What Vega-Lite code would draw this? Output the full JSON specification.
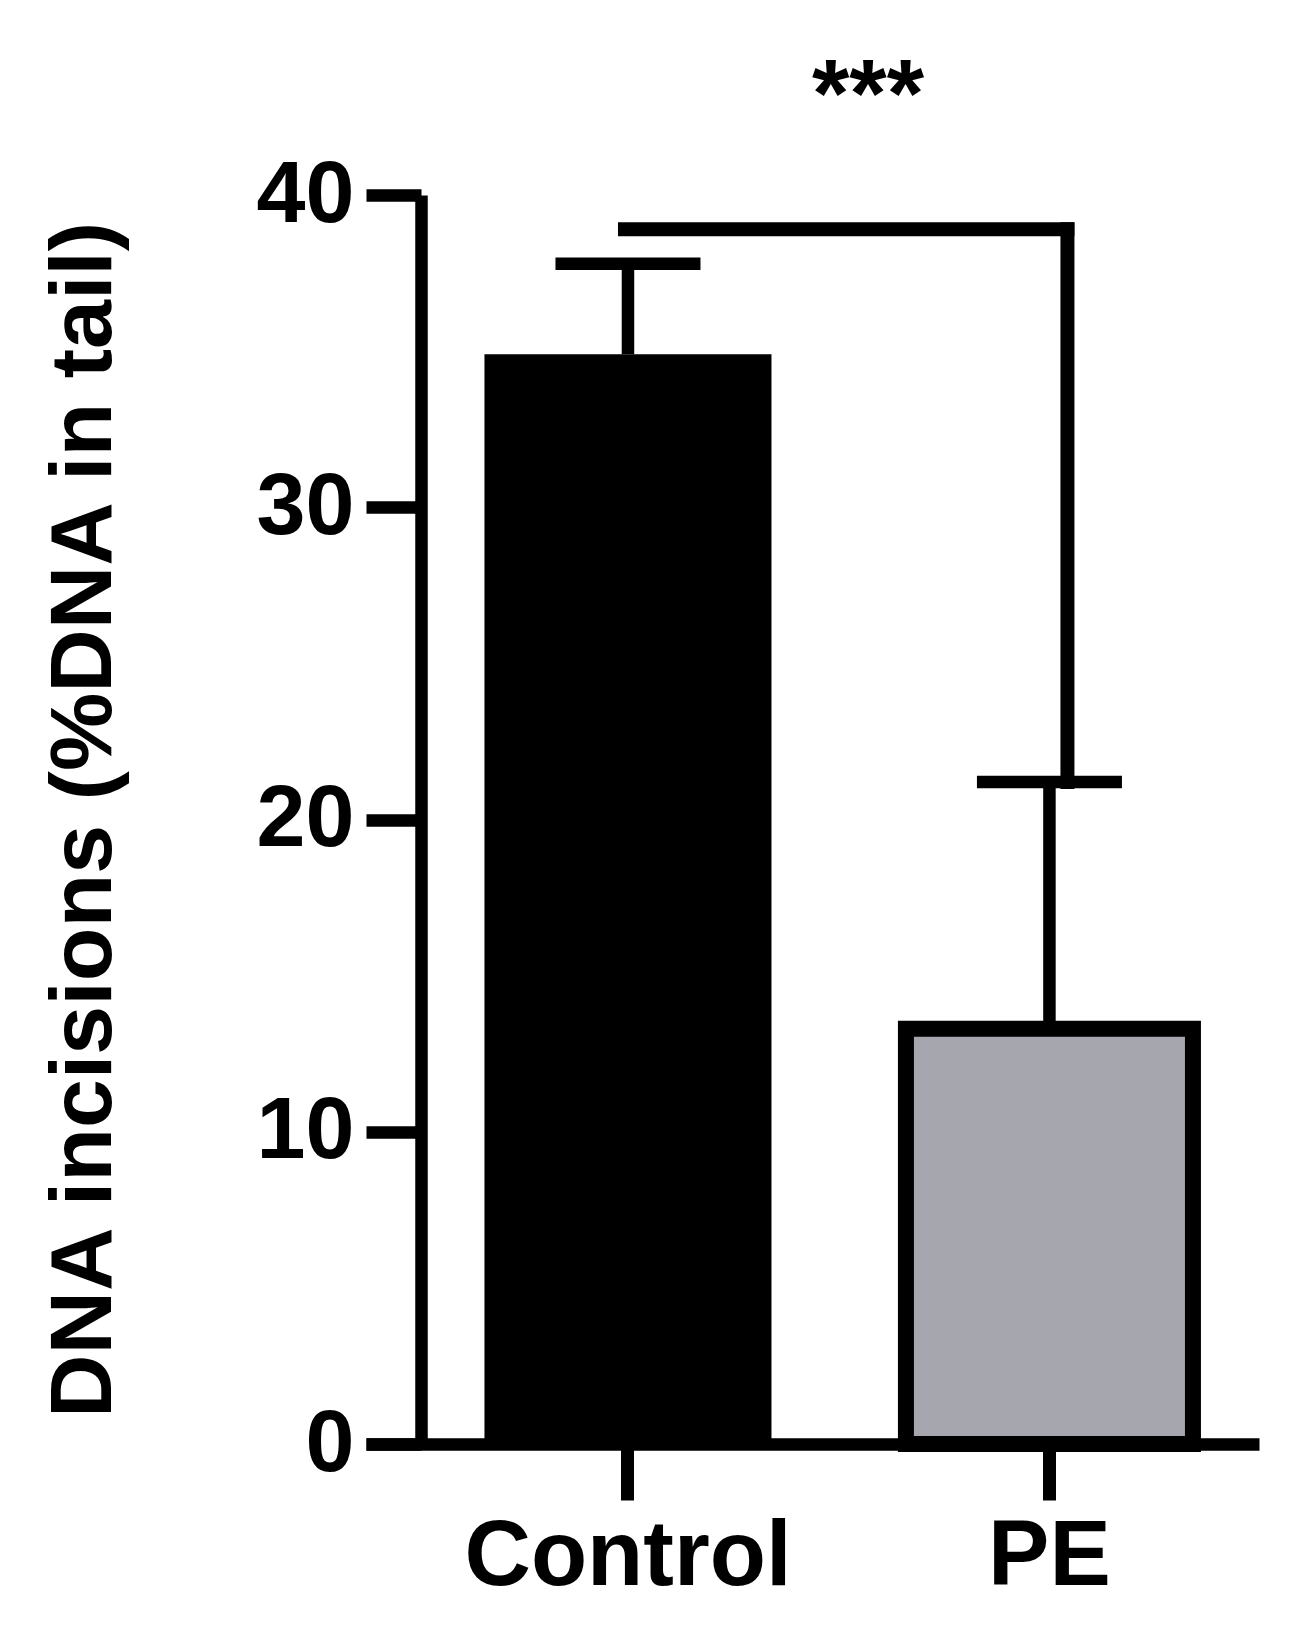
{
  "$schema": "https://vega.github.io/schema/vega-lite/v6.json",
  "width": 893,
  "height": 1249,
  "autosize": {"type": "none"},
  "padding": {"left": 366, "top": 195, "right": 41, "bottom": 195},
  "background": "white",
  "config": {"view": {"stroke": null}, "font": "Liberation Sans"},
  "datasets": {
    "bars": [
      {"group": "Control", "mean": 34.9, "upper": 37.8},
      {"group": "PE", "mean": 13.3, "upper": 21.2}
    ],
    "bracket": [
      {"from": "Control", "to": "PE", "y": 38.9, "low": 21.2, "label": "***", "labelY": 42.2}
    ]
  },
  "layer": [
    {
      "data": {"name": "bars"},
      "mark": {"type": "bar", "stroke": "black"},
      "encoding": {
        "x": {
          "field": "group", "type": "nominal", "sort": null,
          "scale": {"paddingInner": 0.319, "paddingOuter": 0.2189, "align": 0.642},
          "axis": {
            "title": null, "labelAngle": 0, "labelFontSize": 92, "labelFontWeight": "bold",
            "labelColor": "black", "labelPadding": 11, "labelLimit": 0, "tickSize": 56, "tickWidth": 13,
            "tickColor": "black", "domainColor": "black", "domainWidth": 12.5, "grid": false
          }
        },
        "y": {
          "field": "mean", "type": "quantitative",
          "scale": {"domain": [0, 40], "nice": false},
          "axis": {
            "title": "DNA incisions (%DNA in tail)", "titleFontSize": 88, "titleFontWeight": "bold",
            "titleColor": "black", "titlePadding": 128, "values": [0, 10, 20, 30, 40],
            "labelFontSize": 88, "labelFontWeight": "bold", "labelColor": "black",
            "labelPadding": 12, "tickSize": 55, "tickWidth": 12.5, "tickColor": "black",
            "domainWidth": 12.5, "domainColor": "black", "offset": -55, "grid": false
          }
        },
        "fill": {
          "field": "group", "type": "nominal",
          "scale": {"domain": ["Control", "PE"], "range": ["#000000", "#a6a6ae"]},
          "legend": null
        },
        "strokeWidth": {"condition": {"test": "datum.group === 'PE'", "value": 16}, "value": 0}
      }
    },
    {
      "data": {"name": "bars"},
      "mark": {"type": "rule", "strokeWidth": 12.5, "color": "black"},
      "encoding": {
        "x": {"field": "group", "type": "nominal", "sort": null},
        "y": {"field": "mean", "type": "quantitative"},
        "y2": {"field": "upper"}
      }
    },
    {
      "data": {"name": "bars"},
      "mark": {"type": "tick", "orient": "horizontal", "size": 145, "thickness": 12.5, "color": "black", "opacity": 1},
      "encoding": {
        "x": {"field": "group", "type": "nominal", "sort": null},
        "y": {"field": "upper", "type": "quantitative"}
      }
    },
    {
      "data": {"name": "bracket"},
      "mark": {"type": "rule", "strokeWidth": 14, "color": "black", "xOffset": -10, "x2Offset": 25},
      "encoding": {
        "x": {"field": "from", "type": "nominal", "sort": null},
        "x2": {"field": "to"},
        "y": {"field": "y", "type": "quantitative"}
      }
    },
    {
      "data": {"name": "bracket"},
      "mark": {"type": "rule", "strokeWidth": 14, "color": "black", "xOffset": 18, "strokeCap": "square"},
      "encoding": {
        "x": {"field": "to", "type": "nominal", "sort": null},
        "y": {"field": "low", "type": "quantitative"},
        "y2": {"field": "y"}
      }
    },
    {
      "data": {"name": "bracket"},
      "mark": {"type": "text", "fontSize": 96, "fontWeight": "bold", "dx": 240, "baseline": "alphabetic", "align": "center", "color": "black"},
      "encoding": {
        "x": {"field": "from", "type": "nominal", "sort": null},
        "y": {"field": "labelY", "type": "quantitative"},
        "text": {"field": "label"}
      }
    }
  ]
}
